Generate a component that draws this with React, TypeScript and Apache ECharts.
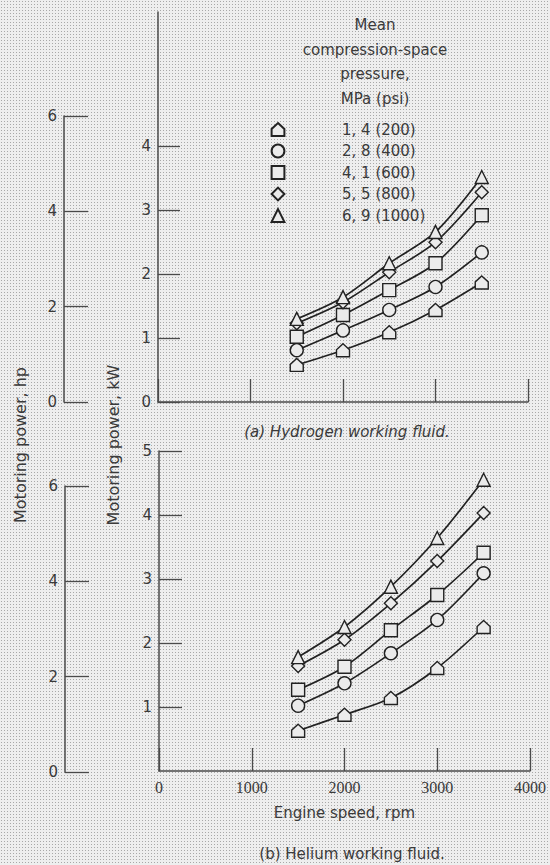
import React, { useEffect, useRef } from "react";
import * as echarts from "echarts";

// Engine speed (rpm) at which points were measured
const rpm = [1500, 2000, 2500, 3000, 3500];
const xTicks = [0, 1000, 2000, 3000, 4000];

// Legend / series names: Mean compression-space pressure, MPa (psi)
const pressureNames = ["1, 4 (200)", "2, 8 (400)", "4, 1 (600)", "5, 5 (800)", "6, 9 (1000)"];

// (a) Hydrogen working fluid, motoring power in kW
const hydrogen14 = [0.58, 0.81, 1.09, 1.44, 1.87];
const hydrogen28 = [0.81, 1.12, 1.44, 1.8, 2.34];
const hydrogen41 = [1.02, 1.36, 1.75, 2.17, 2.92];
const hydrogen55 = [1.23, 1.56, 2.03, 2.5, 3.28];
const hydrogen69 = [1.3, 1.64, 2.17, 2.66, 3.52];

// (b) Helium working fluid, motoring power in kW
const helium14 = [0.63, 0.88, 1.14, 1.61, 2.25];
const helium28 = [1.02, 1.37, 1.84, 2.36, 3.09];
const helium41 = [1.27, 1.63, 2.2, 2.75, 3.41];
const helium55 = [1.64, 2.05, 2.62, 3.28, 4.03];
const helium69 = [1.78, 2.25, 2.88, 3.64, 4.55];

// tick labels
const kwTicksTop = [0, 1, 2, 3, 4];
const kwTicksBottom = [1, 2, 3, 4, 5];
const hpTicks = [0, 2, 4, 6];

const HOUSE = "path://M5,0L10,4.6L10,10L0,10L0,4.6Z";
const symbols = [HOUSE, "circle", "rect", "diamond", "triangle"];

const INK = "#222222";
const TEXT = "#3a3a3a";
const FILL = "#ebebeb";
const FONT = "DejaVu Sans";

export default function App() {
  const ref = useRef<HTMLDivElement>(null);

  useEffect(() => {
    if (!ref.current) return;
    const chart = echarts.init(ref.current, undefined, { renderer: "svg" });

    const hydrogen = [hydrogen14, hydrogen28, hydrogen41, hydrogen55, hydrogen69];
    const helium = [helium14, helium28, helium41, helium55, helium69];

    const makeSeries = (sets: number[][], xi: number, yi: number) =>
      sets.map((vals, k) => ({
        name: pressureNames[k],
        type: "line",
        xAxisIndex: xi,
        yAxisIndex: yi,
        smooth: 0.3,
        symbol: symbols[k],
        symbolSize: 13,
        showAllSymbol: true,
        data: rpm.map((r, i) => [r, vals[i]]),
        lineStyle: { color: INK, width: 1.7 },
        itemStyle: { color: FILL, borderColor: INK, borderWidth: 1.4 },
        z: 3,
      }));

    const axisLine = { show: true, onZero: false, lineStyle: { color: "#4a4a4a", width: 1.5 } };
    const tick = { show: true, inside: true, length: 23, lineStyle: { color: "#4a4a4a", width: 1.3 } };
    const label = { color: TEXT, fontFamily: FONT, fontSize: 15 };

    const option: any = {
      animation: false,
      backgroundColor: "transparent",
      title: [
        {
          text: "Mean\ncompression-space\npressure,\nMPa (psi)",
          left: 370,
          top: 8,
          textAlign: "center",
          textStyle: { color: TEXT, fontFamily: FONT, fontSize: 15, fontWeight: "normal", lineHeight: 24.5 },
        },
        {
          text: "(a) Hydrogen working fluid.",
          left: 342,
          top: 419,
          textAlign: "center",
          textStyle: { color: TEXT, fontFamily: FONT, fontSize: 15, fontStyle: "italic", fontWeight: "normal" },
        },
        {
          text: "(b) Helium working fluid.",
          left: 347,
          top: 841,
          textAlign: "center",
          textStyle: { color: TEXT, fontFamily: FONT, fontSize: 15, fontWeight: "normal" },
        },
      ],
      legend: {
        data: pressureNames,
        orient: "vertical",
        left: 214,
        top: 117,
        itemWidth: 118,
        itemHeight: 16,
        itemGap: 6.5,
        selectedMode: false,
        lineStyle: { width: 0, opacity: 0 },
        textStyle: { color: TEXT, fontFamily: FONT, fontSize: 15 },
      },
      grid: [
        { left: 158, top: 12, width: 370, height: 390 },
        { left: 64, top: 116, width: 10, height: 286 },
        { left: 159, top: 451, width: 371, height: 320 },
        { left: 65, top: 486, width: 10, height: 286 },
      ],
      xAxis: [
        {
          gridIndex: 0,
          type: "value",
          min: 0,
          max: 4000,
          interval: 1000,
          axisLine,
          axisTick: tick,
          axisLabel: { show: false },
          splitLine: { show: false },
        },
        { gridIndex: 1, type: "value", show: false, min: 0, max: 1 },
        {
          gridIndex: 2,
          type: "value",
          min: 0,
          max: 4000,
          interval: 1000,
          axisLine,
          axisTick: { ...tick, customValues: xTicks },
          axisLabel: {
            ...label,
            fontFamily: "Liberation Serif",
            fontSize: 16,
            margin: 8,
            customValues: xTicks,
            formatter: (v: number) => String(v),
          },
          splitLine: { show: false },
          name: "Engine speed, rpm",
          nameLocation: "middle",
          nameGap: 34,
          nameTextStyle: { color: TEXT, fontFamily: FONT, fontSize: 15 },
        },
        { gridIndex: 3, type: "value", show: false, min: 0, max: 1 },
      ],
      yAxis: [
        {
          gridIndex: 0,
          type: "value",
          min: 0,
          max: 6.1,
          axisLine,
          axisTick: { ...tick, length: 22, customValues: kwTicksTop },
          axisLabel: { ...label, margin: 7, customValues: kwTicksTop },
          splitLine: { show: false },
        },
        {
          gridIndex: 1,
          type: "value",
          min: 0,
          max: 6,
          interval: 2,
          axisLine,
          axisTick: { ...tick, length: 24, customValues: hpTicks },
          axisLabel: { ...label, margin: 7, customValues: hpTicks },
          splitLine: { show: false },
        },
        {
          gridIndex: 2,
          type: "value",
          min: 0,
          max: 5,
          interval: 1,
          axisLine,
          axisTick: { ...tick, length: 23, customValues: kwTicksBottom },
          axisLabel: { ...label, margin: 7, customValues: kwTicksBottom },
          splitLine: { show: false },
        },
        {
          gridIndex: 3,
          type: "value",
          min: 0,
          max: 6,
          interval: 2,
          axisLine,
          axisTick: { ...tick, length: 24, customValues: hpTicks },
          axisLabel: { ...label, margin: 7, customValues: hpTicks },
          splitLine: { show: false },
        },
      ],
      graphic: [
        {
          type: "text",
          x: 20,
          y: 445,
          rotation: Math.PI / 2,
          style: {
            text: "Motoring power, hp",
            align: "center",
            verticalAlign: "middle",
            fill: TEXT,
            font: `16px "${FONT}"`,
          },
        },
        {
          type: "text",
          x: 113,
          y: 445,
          rotation: Math.PI / 2,
          style: {
            text: "Motoring power, kW",
            align: "center",
            verticalAlign: "middle",
            fill: TEXT,
            font: `16px "${FONT}"`,
          },
        },
      ],
      series: [...makeSeries(hydrogen, 0, 0), ...makeSeries(helium, 2, 2)],
    };

    chart.setOption(option);
    return () => chart.dispose();
  }, []);

  return (
    <div
      style={{
        position: "absolute",
        left: 0,
        top: 0,
        width: 550,
        height: 865,
        background:
          "radial-gradient(circle, #a8a8a8 0.6px, transparent 1px) 0 0 / 3px 3px, #eeeeee",
      }}
    >
      <div ref={ref} style={{ width: 550, height: 865 }} />
    </div>
  );
}
